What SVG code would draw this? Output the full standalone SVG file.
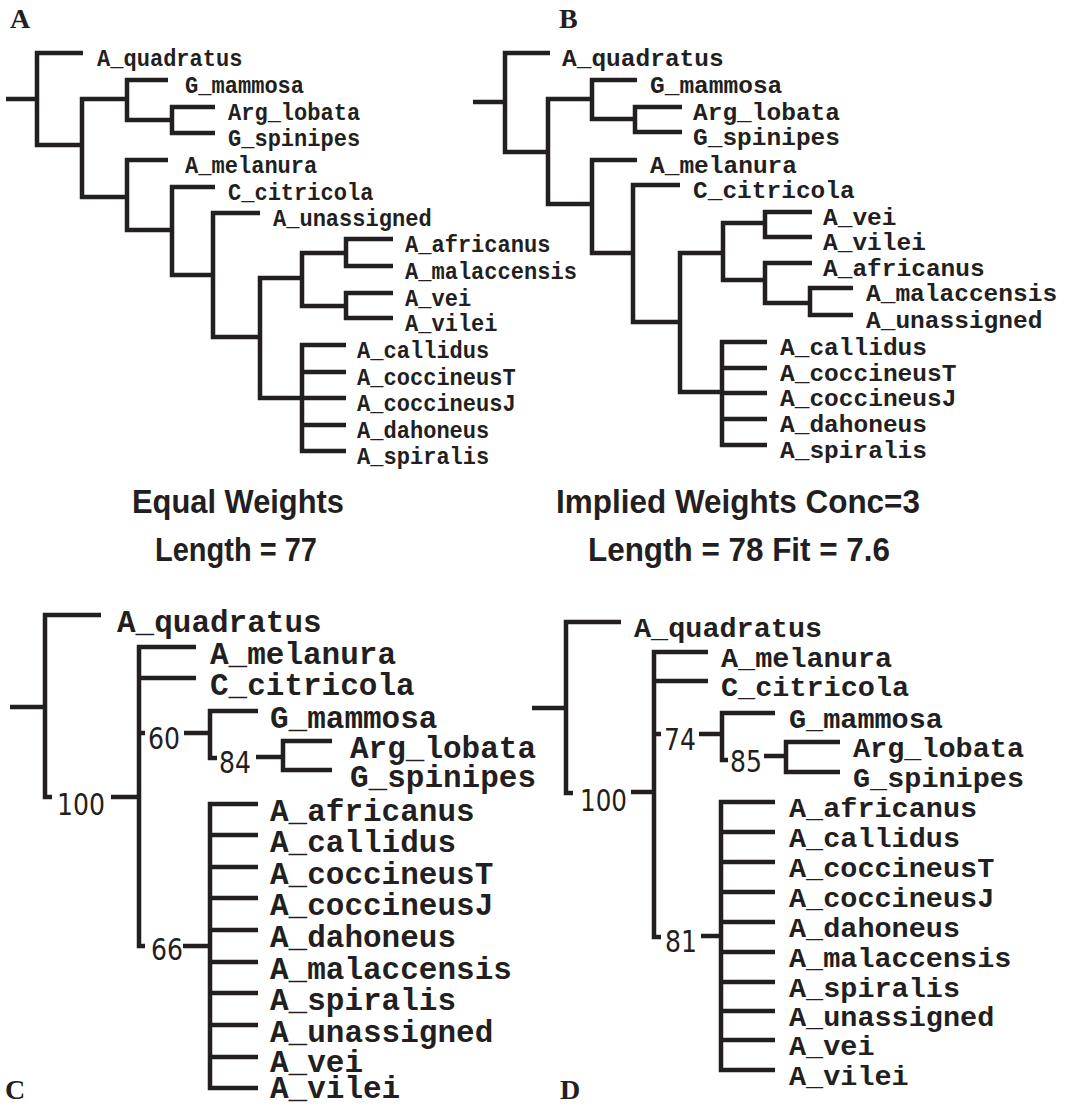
<svg xmlns="http://www.w3.org/2000/svg" width="1065" height="1107" viewBox="0 0 1065 1107">
<style>
.e{fill:none;stroke:#231f20;stroke-width:4.5;stroke-linejoin:miter;stroke-linecap:butt}
.t{font-family:"Liberation Mono","Courier New",monospace;font-weight:bold;fill:#231f20}
.a{font-size:24.5px}
.b{font-size:24.5px}
.c{font-size:31px}
.d{font-size:28.5px}
.s{font-family:"DejaVu Sans","Liberation Sans",sans-serif;font-size:30px;fill:#231f20}
.h{font-family:"Liberation Sans",Arial,sans-serif;font-weight:bold;font-size:33px;fill:#231f20;text-anchor:middle}
.p{font-family:"Liberation Serif","Times New Roman",serif;font-weight:bold;font-size:28px;fill:#231f20}
</style>
<rect width="1065" height="1107" fill="#fff"/>
<g id="connectors">
<path class="e" d="M6 99H37M83 53H37V145H82M127 99H82V197H127M168 80H127V120H172M215 107H172V133H215M168 160H127V230H172M215 187H172V275H213M260 213H213V337H260M302 278H260V398H302M346 253H302V306H346M393 239H346V266H393M393 293H346V318H393M346 345H302V451H346M302 372H346M302 398H346M302 425H346"/>
<path class="e" d="M473 102H505M550 53H505V152H548M592 99H548V204H592M637 80H592V119H635M682 107H635V132H682M637 160H592V253H633M680 185H633V322H680M723 253H680V392H722M765 223H723V280H765M812 212H765V237H812M812 263H765V303H810M853 288H810V315H853M767 342H722V445H767M722 368H767M722 393H767M722 419H767"/>
<path class="e" d="M10 707H45M101 615H45V797H52M111 797H139M196 647H139V946H145M139 678H196M139 733H145M184 733H210M258 711H210V758H217M256 757H283M332 741H283V770H332M183 946H210M258 804H210V1088H258M210 835H258M210 867H258M210 898H258M210 930H258M210 962H258M210 993H258M210 1025H258M210 1057H258"/>
<path class="e" d="M532 708H566M621 622H566V793H573M631 792H654M708 652H654V937H661M654 681H708M654 734H661M699 734H722M775 713H722V760H728M764 756H786M840 742H786V772H840M701 936H721M775 802H721V1070H775M721 832H775M721 862H775M721 892H775M721 922H775M721 952H775M721 982H775M721 1011H775M721 1040H775"/>
</g>
<g id="panel-letters">
<text class="p" x="10" y="28">A</text>
<text class="p" x="559" y="28">B</text>
<text class="p" x="5" y="1099">C</text>
<text class="p" x="560" y="1099">D</text>
</g>
<g id="captions">
<text class="h" x="238" y="513" textLength="212" lengthAdjust="spacingAndGlyphs">Equal Weights</text>
<text class="h" x="236" y="561" textLength="162" lengthAdjust="spacingAndGlyphs">Length = 77</text>
<text class="h" x="738" y="513" textLength="364" lengthAdjust="spacingAndGlyphs">Implied Weights Conc=3</text>
<text class="h" x="739" y="561" textLength="302" lengthAdjust="spacingAndGlyphs">Length = 78 Fit = 7.6</text>
</g>
<g id="treeA" class="t a" transform="scale(0.9 1)">
<g id="A-A_quadratus"><text x="107.8" y="66">A_quadratus</text></g>
<g id="A-G_mammosa"><text x="205.6" y="93">G_mammosa</text></g>
<g id="A-Arg_lobata"><text x="253.3" y="120">Arg_lobata</text></g>
<g id="A-G_spinipes"><text x="253.3" y="146">G_spinipes</text></g>
<g id="A-A_melanura"><text x="205.6" y="173">A_melanura</text></g>
<g id="A-C_citricola"><text x="253.3" y="200">C_citricola</text></g>
<g id="A-A_unassigned"><text x="303.3" y="226">A_unassigned</text></g>
<g id="A-A_africanus"><text x="450" y="252">A_africanus</text></g>
<g id="A-A_malaccensis"><text x="450" y="279">A_malaccensis</text></g>
<g id="A-A_vei"><text x="450" y="306">A_vei</text></g>
<g id="A-A_vilei"><text x="450" y="331">A_vilei</text></g>
<g id="A-A_callidus"><text x="396.7" y="358">A_callidus</text></g>
<g id="A-A_coccineusT"><text x="396.7" y="385">A_coccineusT</text></g>
<g id="A-A_coccineusJ"><text x="396.7" y="411">A_coccineusJ</text></g>
<g id="A-A_dahoneus"><text x="396.7" y="438">A_dahoneus</text></g>
<g id="A-A_spiralis"><text x="396.7" y="464">A_spiralis</text></g>
</g>
<g id="treeB" class="t b">
<g id="B-A_quadratus"><text x="562" y="66">A_quadratus</text></g>
<g id="B-G_mammosa"><text x="650" y="93">G_mammosa</text></g>
<g id="B-Arg_lobata"><text x="693" y="120">Arg_lobata</text></g>
<g id="B-G_spinipes"><text x="693" y="145">G_spinipes</text></g>
<g id="B-A_melanura"><text x="650" y="173">A_melanura</text></g>
<g id="B-C_citricola"><text x="693" y="198">C_citricola</text></g>
<g id="B-A_vei"><text x="823" y="225">A_vei</text></g>
<g id="B-A_vilei"><text x="823" y="250">A_vilei</text></g>
<g id="B-A_africanus"><text x="823" y="276">A_africanus</text></g>
<g id="B-A_malaccensis"><text x="866" y="301">A_malaccensis</text></g>
<g id="B-A_unassigned"><text x="866" y="328">A_unassigned</text></g>
<g id="B-A_callidus"><text x="780" y="355">A_callidus</text></g>
<g id="B-A_coccineusT"><text x="780" y="381">A_coccineusT</text></g>
<g id="B-A_coccineusJ"><text x="780" y="406">A_coccineusJ</text></g>
<g id="B-A_dahoneus"><text x="780" y="432">A_dahoneus</text></g>
<g id="B-A_spiralis"><text x="780" y="458">A_spiralis</text></g>
</g>
<g id="treeC" class="t c">
<g id="C-A_quadratus"><text x="117" y="632">A_quadratus</text></g>
<g id="C-A_melanura"><text x="210" y="664">A_melanura</text></g>
<g id="C-C_citricola"><text x="210" y="695">C_citricola</text></g>
<g id="C-G_mammosa"><text x="270" y="728">G_mammosa</text></g>
<g id="C-Arg_lobata"><text x="350" y="758">Arg_lobata</text></g>
<g id="C-G_spinipes"><text x="350" y="787">G_spinipes</text></g>
<g id="C-A_africanus"><text x="270" y="821">A_africanus</text></g>
<g id="C-A_callidus"><text x="270" y="852">A_callidus</text></g>
<g id="C-A_coccineusT"><text x="270" y="884">A_coccineusT</text></g>
<g id="C-A_coccineusJ"><text x="270" y="915">A_coccineusJ</text></g>
<g id="C-A_dahoneus"><text x="270" y="947">A_dahoneus</text></g>
<g id="C-A_malaccensis"><text x="270" y="979">A_malaccensis</text></g>
<g id="C-A_spiralis"><text x="270" y="1010">A_spiralis</text></g>
<g id="C-A_unassigned"><text x="270" y="1042">A_unassigned</text></g>
<g id="C-A_vei"><text x="270" y="1072">A_vei</text></g>
<g id="C-A_vilei"><text x="270" y="1098">A_vilei</text></g>
</g>
<g id="supportC">
<g id="C-s100"><text class="s" x="57" y="815" textLength="48" lengthAdjust="spacingAndGlyphs">100</text></g>
<g id="C-s60"><text class="s" x="148" y="749" textLength="32" lengthAdjust="spacingAndGlyphs">60</text></g>
<g id="C-s84"><text class="s" x="219" y="773" textLength="32" lengthAdjust="spacingAndGlyphs">84</text></g>
<g id="C-s66"><text class="s" x="151" y="960" textLength="32" lengthAdjust="spacingAndGlyphs">66</text></g>
</g>
<g id="treeD" class="t d">
<g id="D-A_quadratus"><text x="634" y="637">A_quadratus</text></g>
<g id="D-A_melanura"><text x="721" y="667">A_melanura</text></g>
<g id="D-C_citricola"><text x="721" y="696">C_citricola</text></g>
<g id="D-G_mammosa"><text x="789" y="728">G_mammosa</text></g>
<g id="D-Arg_lobata"><text x="853" y="757">Arg_lobata</text></g>
<g id="D-G_spinipes"><text x="853" y="787">G_spinipes</text></g>
<g id="D-A_africanus"><text x="789" y="817">A_africanus</text></g>
<g id="D-A_callidus"><text x="789" y="847">A_callidus</text></g>
<g id="D-A_coccineusT"><text x="789" y="877">A_coccineusT</text></g>
<g id="D-A_coccineusJ"><text x="789" y="907">A_coccineusJ</text></g>
<g id="D-A_dahoneus"><text x="789" y="937">A_dahoneus</text></g>
<g id="D-A_malaccensis"><text x="789" y="967">A_malaccensis</text></g>
<g id="D-A_spiralis"><text x="789" y="997">A_spiralis</text></g>
<g id="D-A_unassigned"><text x="789" y="1026">A_unassigned</text></g>
<g id="D-A_vei"><text x="789" y="1055">A_vei</text></g>
<g id="D-A_vilei"><text x="789" y="1085">A_vilei</text></g>
</g>
<g id="supportD">
<g id="D-s100"><text class="s" x="580" y="811" textLength="47" lengthAdjust="spacingAndGlyphs">100</text></g>
<g id="D-s74"><text class="s" x="664" y="750" textLength="32" lengthAdjust="spacingAndGlyphs">74</text></g>
<g id="D-s85"><text class="s" x="730" y="772" textLength="32" lengthAdjust="spacingAndGlyphs">85</text></g>
<g id="D-s81"><text class="s" x="665" y="952" textLength="32" lengthAdjust="spacingAndGlyphs">81</text></g>
</g>
</svg>
